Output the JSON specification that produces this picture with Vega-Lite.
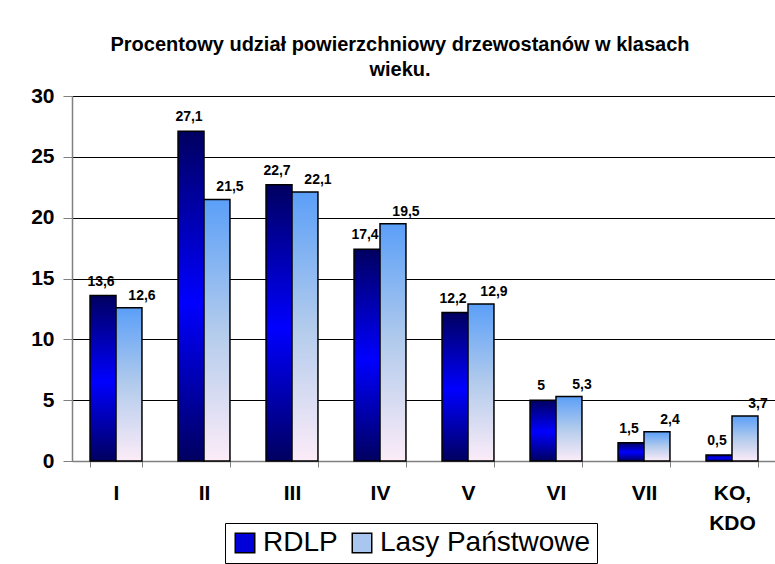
{
  "$schema": "https://vega.github.io/schema/vega-lite/v6.json",
  "width": 704,
  "height": 365,
  "autosize": "none",
  "padding": {"left": 72, "top": 96, "right": 0, "bottom": 103},
  "background": "white",
  "config": {
    "view": {"stroke": null},
    "font": "Liberation Sans",
    "locale": {"number": {"decimal": ",", "thousands": " ", "grouping": [3], "currency": ["", " zł"]}}
  },
  "title": {
    "text": ["Procentowy udział powierzchniowy drzewostanów w klasach", "wieku."],
    "font": "Liberation Sans",
    "fontSize": 20,
    "fontWeight": "bold",
    "color": "black",
    "lineHeight": 25,
    "anchor": "middle",
    "dx": -24,
    "offset": 5
  },
  "data": {
    "values": [
      {"klasa": "I", "seria": "RDLP", "v": 13.6},
      {"klasa": "I", "seria": "Lasy Państwowe", "v": 12.6},
      {"klasa": "II", "seria": "RDLP", "v": 27.1},
      {"klasa": "II", "seria": "Lasy Państwowe", "v": 21.5},
      {"klasa": "III", "seria": "RDLP", "v": 22.7},
      {"klasa": "III", "seria": "Lasy Państwowe", "v": 22.1},
      {"klasa": "IV", "seria": "RDLP", "v": 17.4},
      {"klasa": "IV", "seria": "Lasy Państwowe", "v": 19.5},
      {"klasa": "V", "seria": "RDLP", "v": 12.2},
      {"klasa": "V", "seria": "Lasy Państwowe", "v": 12.9},
      {"klasa": "VI", "seria": "RDLP", "v": 5},
      {"klasa": "VI", "seria": "Lasy Państwowe", "v": 5.3},
      {"klasa": "VII", "seria": "RDLP", "v": 1.5},
      {"klasa": "VII", "seria": "Lasy Państwowe", "v": 2.4},
      {"klasa": "KO, KDO", "seria": "RDLP", "v": 0.5},
      {"klasa": "KO, KDO", "seria": "Lasy Państwowe", "v": 3.7}
    ]
  },
  "encoding": {
    "x": {
      "field": "klasa",
      "type": "nominal",
      "sort": null,
      "scale": {"paddingInner": 0.41, "paddingOuter": 0.205},
      "axis": {
        "title": null,
        "labelAngle": 0,
        "labelFont": "Liberation Sans",
        "labelFontSize": 21,
        "labelFontWeight": "bold",
        "labelColor": "black",
        "labelPadding": 15,
        "labelLineHeight": 30,
        "labelExpr": "datum.value == 'KO, KDO' ? ['KO,', 'KDO'] : datum.value",
        "domainColor": "#808080",
        "domainWidth": 1.5,
        "tickColor": "#808080",
        "tickSize": 6,
        "tickBand": "extent",
        "grid": false
      }
    },
    "xOffset": {
      "field": "seria",
      "type": "nominal",
      "scale": {"domain": ["RDLP", "Lasy Państwowe"], "paddingInner": 0, "paddingOuter": 0}
    },
    "y": {
      "field": "v",
      "type": "quantitative",
      "scale": {"domain": [0, 30], "nice": false},
      "axis": {
        "title": null,
        "values": [0, 5, 10, 15, 20, 25, 30],
        "labelFont": "Liberation Sans",
        "labelFontSize": 21,
        "labelFontWeight": "bold",
        "labelColor": "black",
        "labelPadding": 9,
        "domainColor": "#808080",
        "domainWidth": 1.5,
        "tickColor": "#808080",
        "tickSize": 9,
        "grid": true,
        "gridColor": "black",
        "gridWidth": 1
      }
    }
  },
  "layer": [
    {
      "transform": [{"filter": "datum.seria == 'RDLP'"}],
      "mark": {
        "type": "bar",
        "stroke": "black",
        "strokeWidth": 1.5,
        "fill": {
          "gradient": "linear", "x1": 0, "y1": 0, "x2": 0, "y2": 1,
          "stops": [
            {"offset": 0, "color": "#000060"},
            {"offset": 0.52, "color": "#0000ff"},
            {"offset": 1, "color": "#000060"}
          ]
        }
      },
      "encoding": {
        "color": {
          "field": "seria",
          "type": "nominal",
          "scale": {"domain": ["RDLP", "Lasy Państwowe"], "range": ["#0000d8", "#a9c6ef"]},
          "legend": {
            "title": null,
            "orient": "none",
            "legendX": 153,
            "legendY": 427,
            "direction": "horizontal",
            "strokeColor": "black",
            "fillColor": "white",
            "padding": 6,
            "labelFont": "Liberation Sans",
            "labelFontSize": 28,
            "labelColor": "black",
            "labelLimit": 400,
            "labelOffset": 4,
            "symbolType": "square",
            "symbolSize": 380,
            "symbolStrokeColor": "black",
            "symbolStrokeWidth": 1.5,
            "columnPadding": 10
          }
        }
      }
    },
    {
      "transform": [{"filter": "datum.seria == 'Lasy Państwowe'"}],
      "mark": {
        "type": "bar",
        "stroke": "black",
        "strokeWidth": 1.5,
        "fill": {
          "gradient": "linear", "x1": 0, "y1": 0, "x2": 0, "y2": 1,
          "stops": [
            {"offset": 0, "color": "#5b9ff8"},
            {"offset": 0.5, "color": "#b2cbec"},
            {"offset": 1, "color": "#fcecf8"}
          ]
        }
      },
      "encoding": {
        "color": {"field": "seria", "type": "nominal"}
      }
    },
    {
      "transform": [{"filter": "datum.seria == 'RDLP'"}],
      "mark": {"type": "text", "baseline": "alphabetic", "dy": -10, "dx": -2, "font": "Liberation Sans", "fontSize": 14, "fontWeight": "bold", "color": "black"},
      "encoding": {"text": {"field": "v", "type": "quantitative", "format": ".1~f"}}
    },
    {
      "transform": [{"filter": "datum.seria == 'Lasy Państwowe'"}],
      "mark": {"type": "text", "baseline": "alphabetic", "dy": -8, "dx": 13, "font": "Liberation Sans", "fontSize": 14, "fontWeight": "bold", "color": "black"},
      "encoding": {"text": {"field": "v", "type": "quantitative", "format": ".1~f"}}
    }
  ]
}
